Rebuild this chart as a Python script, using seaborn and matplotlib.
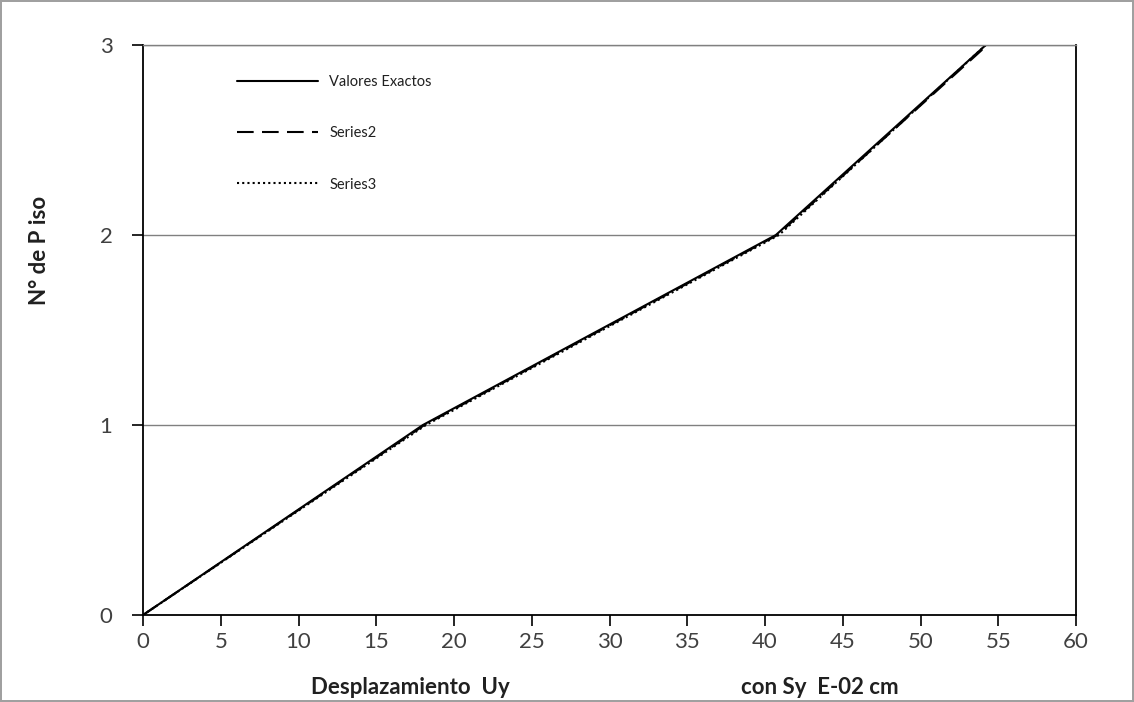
import matplotlib
matplotlib.use("Agg")
import matplotlib.pyplot as plt
import seaborn as sns
import pandas as pd

# data
pisos = [0, 1, 2, 3]
exactos = [0, 18.0, 40.7, 54.2]
series2 = [0, 18.1, 40.8, 54.3]
series3 = [0, 18.2, 40.9, 54.2]

df = pd.DataFrame({
    "piso": pisos * 3,
    "desp": exactos + series2 + series3,
    "serie": ["Valores Exactos"] * 4 + ["Series2"] * 4 + ["Series3"] * 4,
})

sns.set_style("white")
plt.rcParams["font.family"] = ["Lato", "DejaVu Sans"]

fig = plt.figure(figsize=(11.34, 7.02), dpi=100)
fig.patch.set_edgecolor("#a0a0a0")
fig.patch.set_linewidth(1.5)
ax = fig.add_axes([143 / 1134, 1 - 615 / 702, (1076 - 143) / 1134, (615 - 45) / 702])

styles = {"Valores Exactos": "-", "Series2": (0, (8, 4)), "Series3": (0, (1, 1.5))}
for name, ls in styles.items():
    d = df[df["serie"] == name]
    sns.lineplot(data=d, x="desp", y="piso", ax=ax, color="black", lw=1.5,
                 linestyle=ls, label=name, sort=False, estimator=None)

ax.set_xlim(0, 60)
ax.set_ylim(0, 3)
ax.set_xticks(range(0, 61, 5))
ax.set_yticks([0, 1, 2, 3])
for y in [1, 2, 3]:
    ax.axhline(y, color="#808080", lw=1, zorder=0)

for s in ax.spines.values():
    s.set_color("black")
    s.set_linewidth(1.3)
ax.spines["top"].set_color("#808080")
ax.spines["top"].set_linewidth(1)

ax.tick_params(axis="x", direction="out", length=8, width=1.2, color="black",
               labelsize=16, labelcolor="#404040", pad=4, bottom=True)
ax.tick_params(axis="y", direction="out", length=8, width=1.2, color="black",
               labelsize=16, labelcolor="#404040", pad=14, left=True)

ax.set_xlabel("")
fig.text(410 / 1134, 1 - 687 / 702, "Desplazamiento  Uy", ha="center", va="center",
         fontsize=16, fontweight="bold", color="#202020")
fig.text(820 / 1134, 1 - 687 / 702, "con Sy  E-02 cm", ha="center", va="center",
         fontsize=16, fontweight="bold", color="#202020")
ax.set_ylabel("")
fig.text(40 / 1134, 1 - 250 / 702, "N° de P iso", rotation=90, ha="center", va="center",
         fontsize=16, fontweight="bold", color="#202020")

leg = ax.legend(loc="upper left", bbox_to_anchor=(0.087, 0.97), frameon=False,
                fontsize=10.5, handlelength=5.5, labelspacing=2.55, handletextpad=0.8)
for t in leg.get_texts():
    t.set_color("#202020")

plt.savefig("out.png", dpi=100)
